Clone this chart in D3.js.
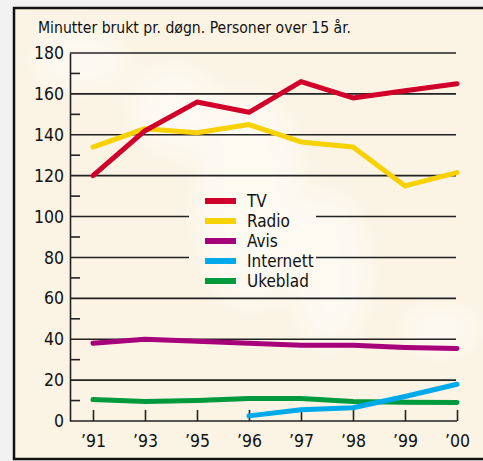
<!DOCTYPE html>
<html>
<head>
<meta charset="utf-8">
<script src="https://cdn.jsdelivr.net/npm/d3@7"></script>
<style>
  html, body { margin: 0; padding: 0; background: #f2f2f2; }
  svg { display: block; }
  text { font-family: "Liberation Sans Narrow", "Arial Narrow", "DejaVu Sans Condensed", sans-serif; fill: #111; }
</style>
</head>
<body>
<div id="chart"></div>
<script>
// years on the x axis
var years = ["’91", "’93", "’95", "’96", "’97", "’98", "’99", "’00"];

// minutes per day
var tv        = [120, 142, 156, 151, 166, 158, 161.5, 165];
var radio     = [134, 143, 141, 145, 136.5, 134, 115, 121.5];
var avis      = [38, 40, 39, 38, 37, 37, 36, 35.5];
var internett = [null, null, null, 2.5, 5.5, 6.5, 12, 18];
var ukeblad   = [10.5, 9.5, 10, 11, 11, 9.5, 9.2, 9];

var seriesNames  = ["TV", "Radio", "Avis", "Internett", "Ukeblad"];
var seriesColors = ["#d0002b", "#f8d100", "#a6007b", "#00a9e9", "#009a3e"];
var seriesValues = [tv, radio, avis, internett, ukeblad];

var yTicks = [0, 20, 40, 60, 80, 100, 120, 140, 160, 180];
var yMinor = [10, 30, 50, 70, 90, 110, 130, 150, 170];

var W = 483, H = 461;

var svg = d3.select("#chart").append("svg")
    .attr("width", W)
    .attr("height", H);

// cream panel with black frame
svg.append("rect")
    .attr("x", 14).attr("y", 8)
    .attr("width", W + 10).attr("height", 451)
    .attr("fill", "#fbf3e3")
    .attr("stroke", "#111")
    .attr("stroke-width", 2.5);

// faint light patches like the photo behind
var defs = svg.append("defs");
defs.append("filter").attr("id", "blur")
    .append("feGaussianBlur").attr("stdDeviation", 14);
defs.append("clipPath").attr("id", "panel")
    .append("rect").attr("x", 15.5).attr("y", 9.5).attr("width", W).attr("height", 448);
var bg = svg.append("g").attr("clip-path", "url(#panel)")
    .append("g").attr("filter", "url(#blur)").attr("fill", "#fff").attr("opacity", 0.55);
bg.append("ellipse").attr("cx", 250).attr("cy", 200).attr("rx", 55).attr("ry", 110);
bg.append("ellipse").attr("cx", 175).attr("cy", 110).attr("rx", 45).attr("ry", 45);
bg.append("ellipse").attr("cx", 330).attr("cy", 270).attr("rx", 40).attr("ry", 80);
bg.append("ellipse").attr("cx", 80).attr("cy", 60).attr("rx", 50).attr("ry", 30);
bg.append("ellipse").attr("cx", 440).attr("cy", 330).attr("rx", 40).attr("ry", 25);

var x = d3.scalePoint().domain(years).range([93, 457]);
var y = d3.scaleLinear().domain([0, 180]).range([421, 53]);

// title
svg.append("text")
    .attr("x", 38).attr("y", 32.5)
    .attr("font-size", 16.5)
    .attr("textLength", 313)
    .attr("lengthAdjust", "spacingAndGlyphs")
    .text("Minutter brukt pr. døgn. Personer over 15 år.");

// gridlines, with a gap for the legend at 80 and 100
var legendGap = [189, 316];
var grid = svg.append("g").attr("stroke", "#222").attr("stroke-width", 1.6);
yTicks.filter(function(d) { return d > 0; }).forEach(function(d) {
  if (d === 80 || d === 100) {
    grid.append("line").attr("x1", 70).attr("x2", legendGap[0]).attr("y1", y(d)).attr("y2", y(d));
    grid.append("line").attr("x1", legendGap[1]).attr("x2", 456).attr("y1", y(d)).attr("y2", y(d));
  } else {
    grid.append("line").attr("x1", 70).attr("x2", 456).attr("y1", y(d)).attr("y2", y(d));
  }
});

// y axis: labels on the left, minor ticks pointing in
var yAxis = svg.append("g").attr("transform", "translate(70,0)")
    .call(d3.axisLeft(y).tickValues(yTicks).tickSize(0).tickPadding(6));
yAxis.select(".domain").attr("stroke", "#222").attr("stroke-width", 1.6);
yAxis.selectAll("text")
    .style("font-family", "'Liberation Sans Narrow', 'Arial Narrow', 'DejaVu Sans Condensed', sans-serif")
    .attr("font-size", 17.5).attr("fill", "#111");

svg.append("g").selectAll("line").data(yMinor).join("line")
    .attr("x1", 70).attr("x2", 80)
    .attr("y1", function(d) { return y(d); }).attr("y2", function(d) { return y(d); })
    .attr("stroke", "#222").attr("stroke-width", 1.6);

// x axis: ticks point up
var xAxis = svg.append("g").attr("transform", "translate(0," + y(0) + ")")
    .call(d3.axisBottom(x).tickSizeInner(-11).tickSizeOuter(0).tickPadding(8));
xAxis.select(".domain").attr("d", "M70,0H457").attr("stroke", "#222").attr("stroke-width", 1.6);
xAxis.selectAll(".tick line").attr("stroke", "#222").attr("stroke-width", 1.6);
xAxis.selectAll("text")
    .style("font-family", "'Liberation Sans Narrow', 'Arial Narrow', 'DejaVu Sans Condensed', sans-serif")
    .attr("font-size", 17.5).attr("fill", "#111").attr("dy", "1em");

// series lines, TV drawn last so it sits on top
var line = d3.line()
    .defined(function(d) { return d != null; })
    .x(function(d, i) { return x(years[i]); })
    .y(function(d) { return y(d); });

var order = [4, 3, 2, 1, 0];
svg.append("g").selectAll("path").data(order).join("path")
    .attr("d", function(k) { return line(seriesValues[k]); })
    .attr("fill", "none")
    .attr("stroke", function(k) { return seriesColors[k]; })
    .attr("stroke-width", 5)
    .attr("stroke-linejoin", "round")
    .attr("stroke-linecap", "round");

// legend
var legend = svg.append("g").attr("transform", "translate(205,201)");
var item = legend.selectAll("g").data(seriesNames).join("g")
    .attr("transform", function(d, i) { return "translate(0," + (i * 20) + ")"; });
item.append("line")
    .attr("x1", 0).attr("x2", 31)
    .attr("stroke", function(d, i) { return seriesColors[i]; })
    .attr("stroke-width", 6);
item.append("text")
    .attr("x", 42).attr("y", 0).attr("dy", "0.35em")
    .attr("font-size", 17)
    .text(function(d) { return d; });
</script>
</body>
</html>
